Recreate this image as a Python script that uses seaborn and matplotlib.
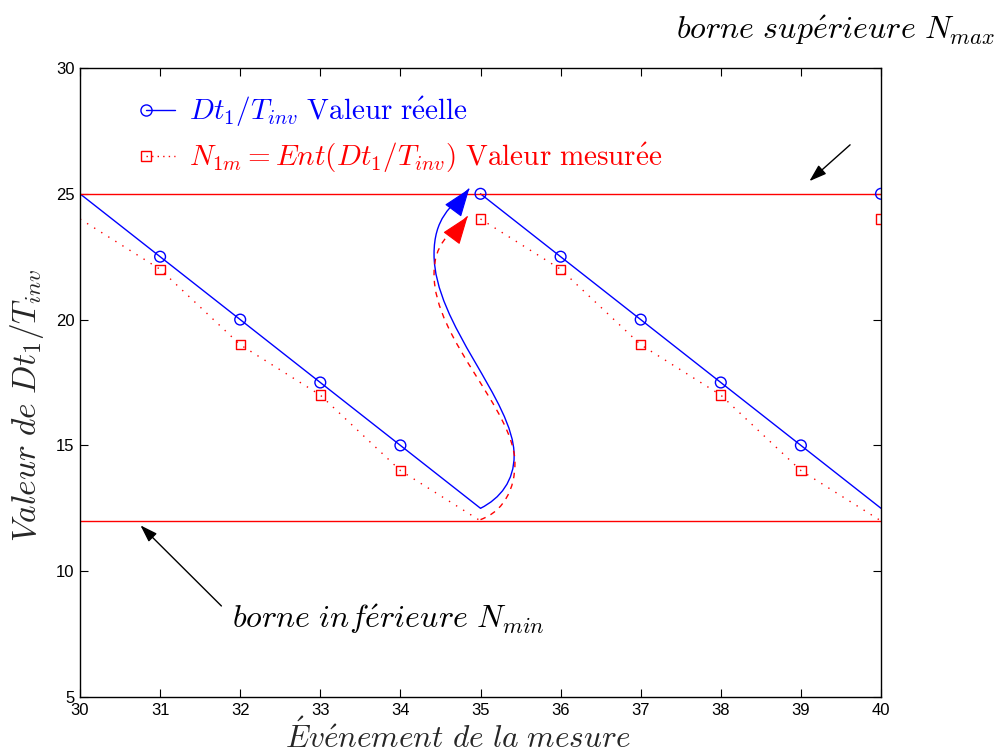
import numpy as np
import pandas as pd
import matplotlib
matplotlib.use("Agg")
import matplotlib.pyplot as plt
import seaborn as sns
from matplotlib.lines import Line2D
from matplotlib.path import Path
from matplotlib.patches import PathPatch
from matplotlib.legend_handler import HandlerLine2D

# --- data -------------------------------------------------------------
events = [31, 32, 33, 34, 35, 36, 37, 38, 39, 40]
valeur_reelle = [22.5, 20, 17.5, 15, 25, 22.5, 20, 17.5, 15, 25]
valeur_mesuree = [22, 19, 17, 14, 24, 22, 19, 17, 14, 24]

# continuous traces (two sawtooth ramps)
trace_x = [30, 31, 32, 33, 34, 35, 35, 36, 37, 38, 39, 40]
trace_reelle = [25, 22.5, 20, 17.5, 15, 12.5, 25, 22.5, 20, 17.5, 15, 12.5]
trace_mesuree = [24, 22, 19, 17, 14, 12, 24, 22, 19, 17, 14, 12]
trace_rampe = [0, 0, 0, 0, 0, 0, 1, 1, 1, 1, 1, 1]

n_max = 25
n_min = 12

x_ticks = list(range(30, 41))
y_ticks = [5, 10, 15, 20, 25, 30]

# --- style ------------------------------------------------------------
sns.set_theme(style="ticks")
plt.rcParams["font.family"] = ["Liberation Sans Narrow", "Liberation Sans", "DejaVu Sans"]
plt.rcParams["mathtext.fontset"] = "cm"

fig = plt.figure(figsize=(9.97, 7.55), dpi=100)
ax = fig.add_axes([80 / 997, 1 - 697 / 755, 801 / 997, 629 / 755])

df = pd.DataFrame({"x": trace_x, "reelle": trace_reelle,
                   "mesuree": trace_mesuree, "rampe": trace_rampe})

sns.lineplot(data=df, x="x", y="reelle", units="rampe", estimator=None,
             sort=False, color="blue", lw=1.0, ax=ax)
sns.lineplot(data=df, x="x", y="mesuree", units="rampe", estimator=None,
             sort=False, color="red", lw=1.0, linestyle=(0, (1, 5)), ax=ax)

sns.scatterplot(x=events, y=valeur_reelle, marker="o", s=60,
                facecolor="none", edgecolor="blue", linewidth=1.0, ax=ax, zorder=4)
sns.scatterplot(x=events, y=valeur_mesuree, marker="s", s=45,
                facecolor="none", edgecolor="red", linewidth=1.0, ax=ax, zorder=4)

# bounds
ax.axhline(n_max, color="red", lw=1.0)
ax.axhline(n_min, color="red", lw=1.0)

# curved arrows showing the wrap-around from the lower to the upper bound
codes = [Path.MOVETO] + [Path.CURVE4] * 9
blue_verts = [(35, 12.5),
              (35.25, 12.9), (35.42, 13.6), (35.42, 14.6),
              (35.42, 16.8), (34.42, 19.8), (34.42, 22.6),
              (34.42, 24.0), (34.62, 24.5), (34.86, 25.2)]
red_verts = [(35, 12.05),
             (35.3, 12.4), (35.43, 13.3), (35.43, 14.3),
             (35.43, 16.4), (34.42, 19.2), (34.42, 21.8),
             (34.42, 23.0), (34.6, 23.4), (34.84, 24.1)]
ax.add_patch(PathPatch(Path(blue_verts, codes), fill=False, edgecolor="blue",
                       lw=1.0, zorder=3))
ax.add_patch(PathPatch(Path(red_verts, codes), fill=False, edgecolor="red",
                       lw=1.0, linestyle=(0, (4, 4)), zorder=3))
head = dict(arrowstyle="-|>,head_length=0.9,head_width=0.33", mutation_scale=20,
            lw=0.8, shrinkA=0, shrinkB=0)
ax.annotate("", xy=(34.86, 25.2), xytext=(34.72, 24.6),
            arrowprops=dict(color="blue", **head))
ax.annotate("", xy=(34.84, 24.1), xytext=(34.7, 23.5),
            arrowprops=dict(color="red", **head))

# bound annotations
ax.annotate("", xy=(39.08, 25.43), xytext=(39.64, 27.02),
            arrowprops=dict(arrowstyle="-|>,head_length=0.75,head_width=0.25",
                            mutation_scale=14, color="black", lw=1.0),
            annotation_clip=False)
ax.text(41.42, 31.5, r"$borne\ sup\acute{e}rieure\ N_{max}$", ha="right",
        va="center", fontsize=23, color="black", clip_on=False)

ax.annotate("", xy=(30.73, 11.9), xytext=(31.79, 8.54),
            arrowprops=dict(arrowstyle="-|>,head_length=0.75,head_width=0.25",
                            mutation_scale=14, color="black", lw=1.0))
ax.text(31.9, 8.1, r"$borne\ inf\acute{e}rieure\ N_{min}$", ha="left",
        va="center", fontsize=23, color="black")

# axes
ax.set_xlim(30, 40)
ax.set_ylim(5, 30)
ax.set_xticks(x_ticks)
ax.set_yticks(y_ticks)
ax.tick_params(direction="in", top=True, right=True, length=6, width=0.8,
               labelsize=12, colors="black", pad=4)
for sp in ax.spines.values():
    sp.set_visible(True)
    sp.set_color("black")
    sp.set_linewidth(1.0)

ax.set_xlabel(r"$\acute{E}v\acute{e}nement\ de\ la\ mesure$", fontsize=22.5)
ax.set_ylabel(r"$Valeur\ de\ Dt_1/T_{inv}$", fontsize=24)
ax.xaxis.set_label_coords(0.472, -0.036)
ax.yaxis.set_label_coords(-0.043, 0.463)


class MarkerFirst(HandlerLine2D):
    """Legend handle with the marker at the left end of the line."""
    def create_artists(self, *args, **kwargs):
        artists = super().create_artists(*args, **kwargs)
        for a in artists:
            a.set_markevery([0])
        return artists


handles = [
    Line2D([], [], color="blue", lw=1.0, marker="o", markersize=8,
           markerfacecolor="none", markeredgecolor="blue"),
    Line2D([], [], color="red", lw=1.0, linestyle=(0, (1, 3)), marker="s",
           markersize=7, markerfacecolor="none", markeredgecolor="red"),
]
labels = [r"$Dt_1/T_{inv}\ \mathrm{Valeur\ r\acute{e}elle}$",
          r"$N_{1m}=Ent(Dt_1/T_{inv})\ \mathrm{Valeur\ mesur\acute{e}e}$"]
leg = ax.legend(handles, labels, loc="upper left", frameon=False, fontsize=21,
                handlelength=1.0, bbox_to_anchor=(0.06, 0.985),
                labelspacing=0.42, handletextpad=0.5, borderaxespad=0.2,
                handler_map={Line2D: MarkerFirst(numpoints=2, marker_pad=0)})
for txt, col in zip(leg.get_texts(), ["blue", "red"]):
    txt.set_color(col)

fig.savefig("out.png", dpi=100, facecolor="white")
